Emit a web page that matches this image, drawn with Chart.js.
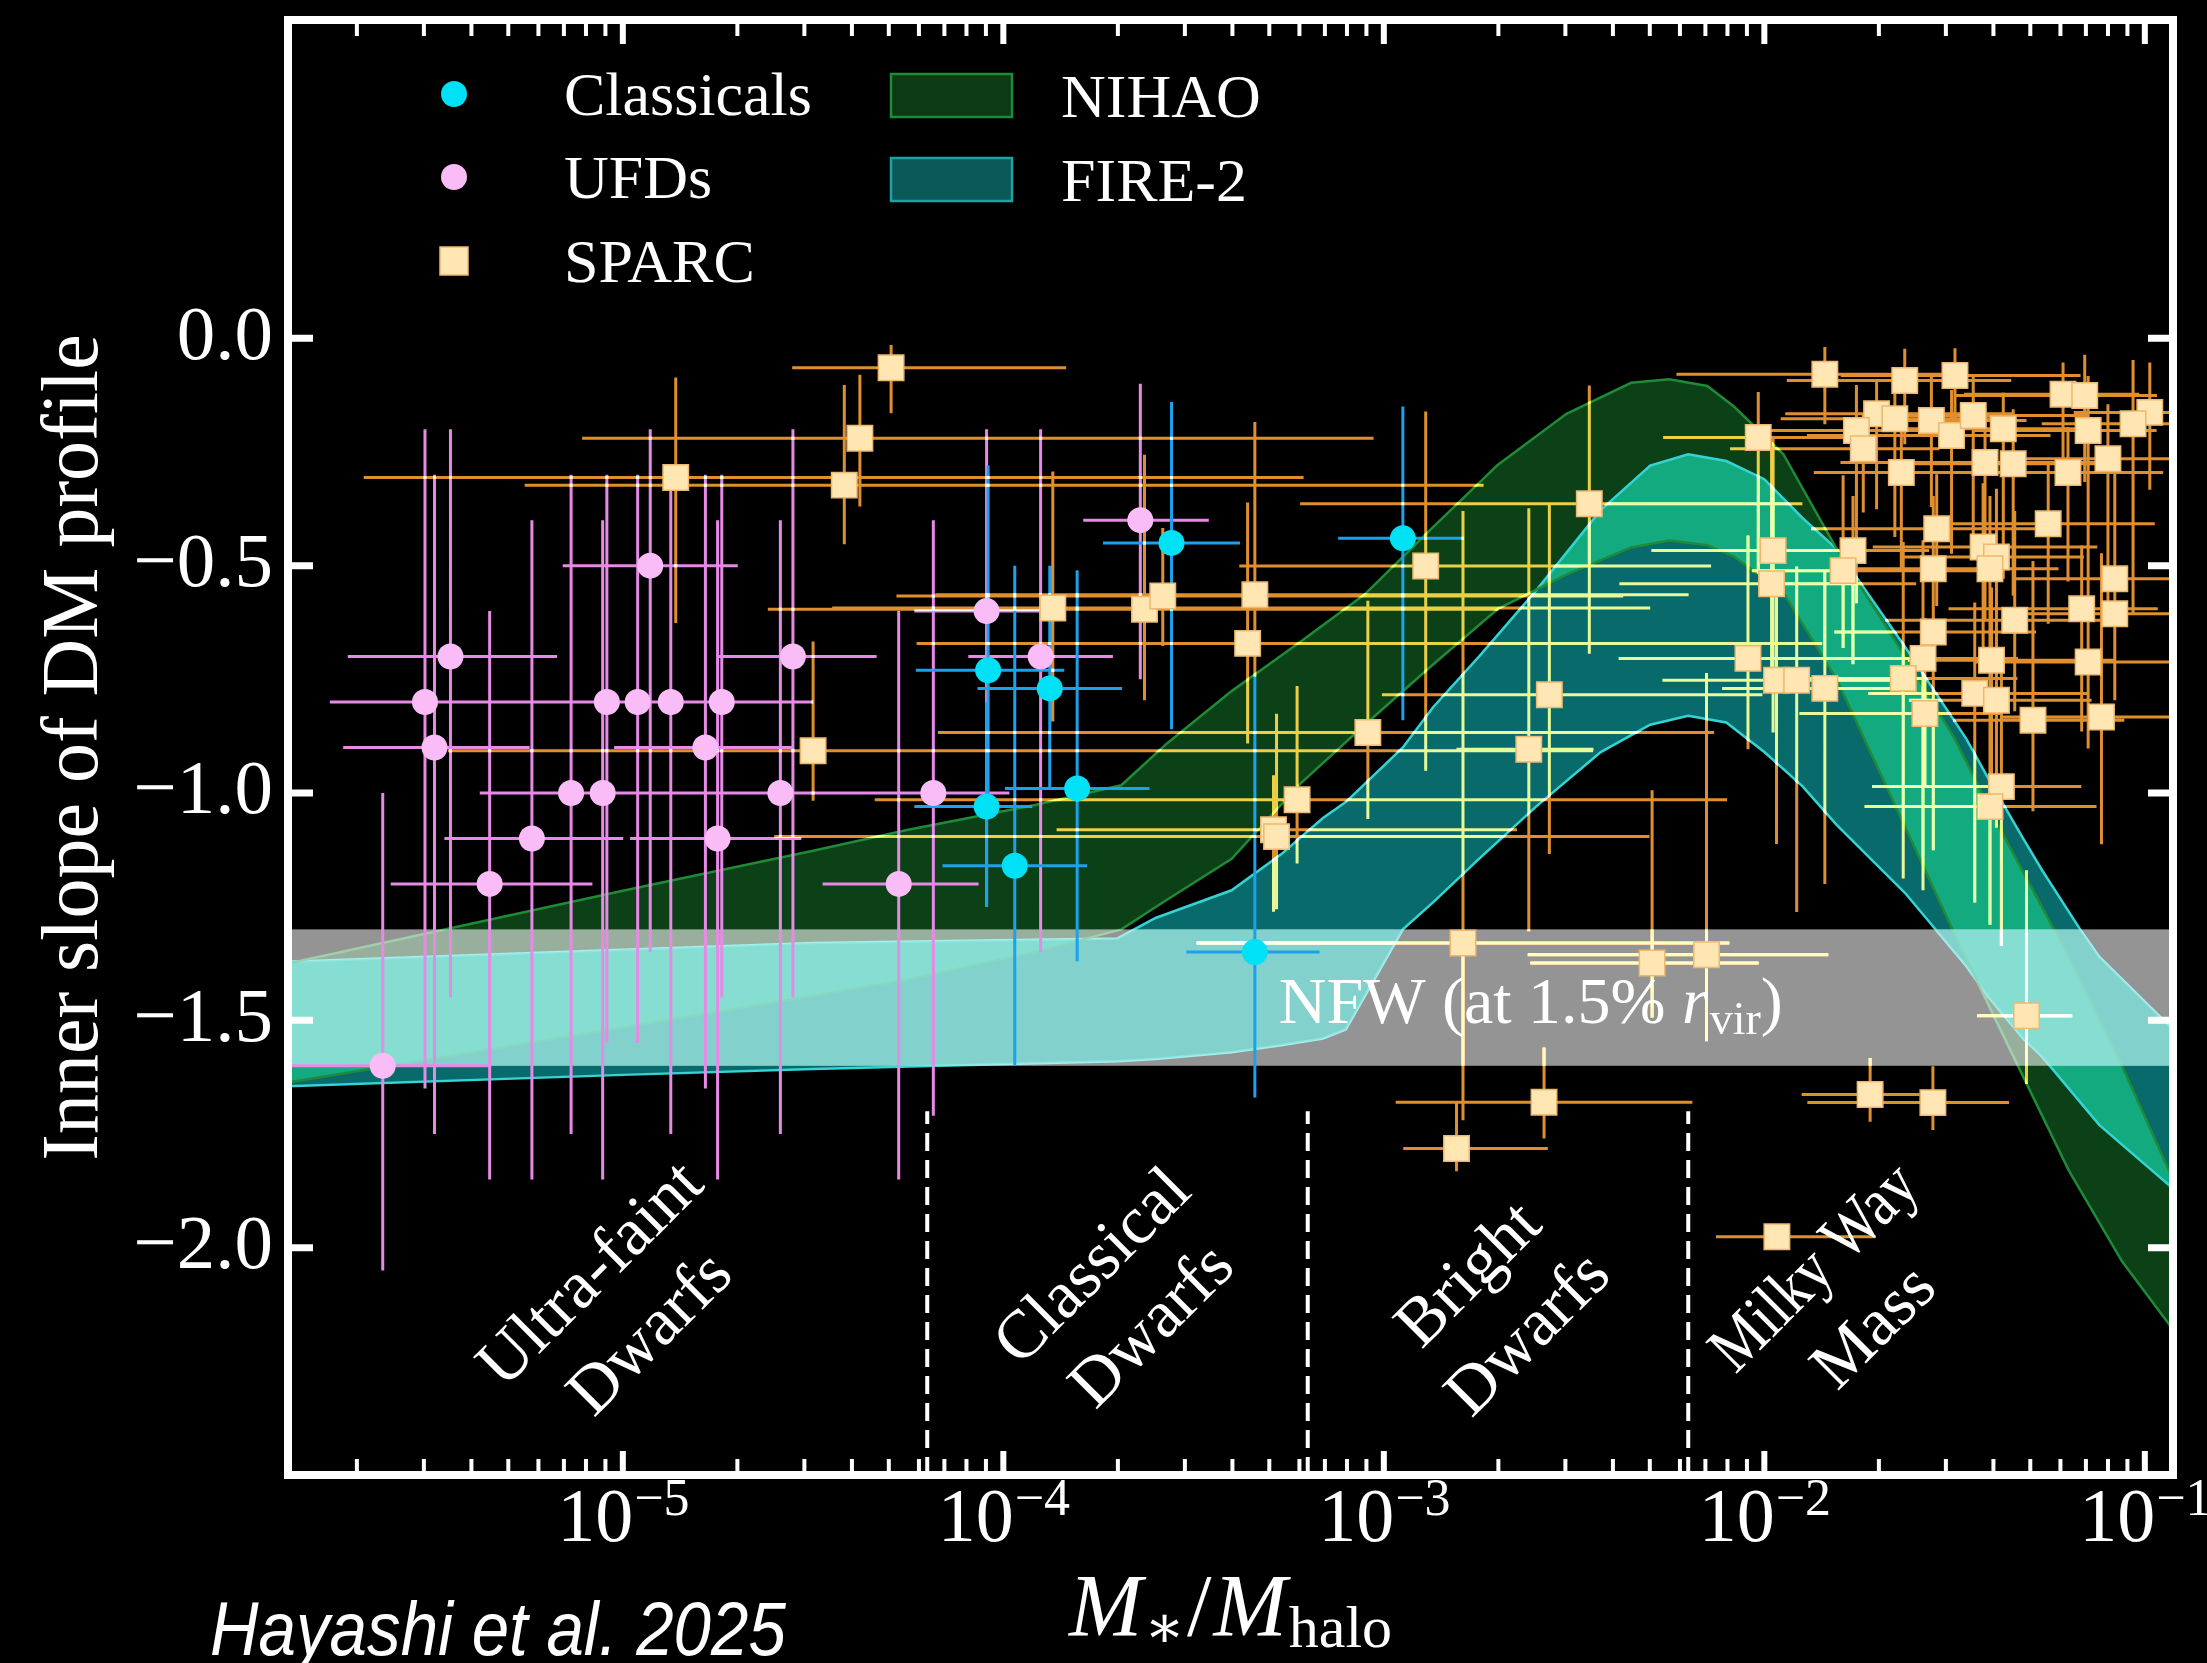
<!DOCTYPE html>
<html lang="en">
<head>
<meta charset="utf-8">
<title>Inner slope of DM profile vs stellar-to-halo mass ratio</title>
<script src="https://cdn.jsdelivr.net/npm/chart.js@4.4.1/dist/chart.umd.min.js"></script>
<style>
  html, body { margin: 0; padding: 0; background: #000; }
  canvas { display: block; }
</style>
</head>
<body>
<canvas id="slopeChart" width="2207" height="1663"></canvas>
<script>
// ---------------------------------------------------------------------------
// Data: x values are log10(M*/Mhalo); errors are given as (minus, plus).
// ---------------------------------------------------------------------------

// Ultra-faint dwarfs
const ufdLogRatio   = [-5.631, -5.520, -5.495, -5.453, -5.350, -5.239, -5.136, -5.053, -5.042, -4.961, -4.928,
                       -4.874, -4.783, -4.740, -4.751, -4.586, -4.553, -4.275, -4.184, -4.044, -3.902, -3.640];
const ufdSlope      = [-1.60, -0.80, -0.90, -0.70, -1.20, -1.10, -1.00, -1.00, -0.80, -0.80, -0.50,
                       -0.80, -0.90, -0.80, -1.10, -1.00, -0.70, -1.20, -1.00, -0.60, -0.70, -0.40];
const ufdLogErrLo   = [0.28, 0.25, 0.24, 0.27, 0.26, 0.23, 0.24, 0.24, 0.25, 0.24, 0.23,
                       0.25, 0.24, 0.24, 0.23, 0.25, 0.20, 0.20, 0.27, 0.19, 0.19, 0.15];
const ufdLogErrHi   = [0.28, 0.29, 0.25, 0.28, 0.27, 0.24, 0.25, 0.23, 0.25, 0.24, 0.23,
                       0.24, 0.23, 0.24, 0.22, 0.26, 0.22, 0.21, 0.20, 0.17, 0.19, 0.18];
const ufdSlopeErrLo = [0.45, 0.85, 0.85, 0.75, 0.65, 0.75, 0.75, 0.85, 0.75, 0.75, 0.85,
                       0.95, 0.75, 0.65, 0.75, 0.75, 0.75, 0.65, 0.71, 0.65, 0.65, 0.35];
const ufdSlopeErrHi = [0.60, 0.60, 0.60, 0.50, 0.60, 0.70, 0.70, 0.60, 0.50, 0.50, 0.30,
                       0.50, 0.60, 0.50, 0.70, 0.60, 0.50, 0.60, 0.60, 0.40, 0.50, 0.30];

// Classical dwarfs
const classLogRatio   = [-4.040, -4.044, -3.878, -3.806, -3.970, -3.558, -3.339, -2.950];
const classSlope      = [-0.73, -1.03, -0.77, -0.99, -1.16, -0.45, -1.35, -0.44];
const classLogErrLo   = [0.19, 0.19, 0.19, 0.19, 0.19, 0.18, 0.18, 0.17];
const classLogErrHi   = [0.20, 0.12, 0.19, 0.19, 0.19, 0.18, 0.17, 0.16];
const classSlopeErrLo = [0.30, 0.22, 0.22, 0.38, 0.44, 0.41, 0.32, 0.40];
const classSlopeErrHi = [0.45, 0.23, 0.27, 0.48, 0.66, 0.31, 0.61, 0.29];

// SPARC rotation-curve galaxies
const sparcLogRatio = [
  -4.295, -4.377, -4.418, -4.861, -4.500, -3.870, -3.629, -3.581, -3.358, -3.339,
  -2.890, -3.042, -3.290, -3.282, -3.228, -2.792, -2.809, -2.460, -2.565, -2.619,
  -2.295, -2.152, -2.579, -1.967, -1.722, -1.557, -1.311,
  -1.841, -1.631, -1.499, -1.215, -1.158, -0.987, -2.016, -1.705, -1.657, -1.758,
  -1.740, -1.561, -1.508, -1.451, -1.372, -1.149, -1.031, -1.640, -1.420, -1.346,
  -1.202, -1.097, -1.547, -1.254, -1.977, -1.767, -1.981, -1.793, -1.556, -1.425,
  -1.390, -1.407, -1.079, -1.166, -1.079, -1.342, -1.556, -1.583, -1.635, -2.043,
  -1.968, -1.915, -1.841, -1.403, -1.149, -1.447, -1.390, -1.294, -1.114, -1.578,
  -1.377, -1.407];
const sparcSlope = [
  -0.065, -0.220, -0.323, -0.306, -0.907, -0.593, -0.596, -0.567, -0.671, -0.564,
  -0.501, -0.867, -1.081, -1.096, -1.015, -1.330, -1.782, -0.364, -0.784, -0.904,
  -1.374, -1.356, -1.680, -1.976, -1.663, -1.681, -1.490,
  -0.079, -0.093, -0.082, -0.123, -0.126, -0.163, -0.218, -0.166, -0.177, -0.203,
  -0.243, -0.181, -0.214, -0.170, -0.199, -0.203, -0.188, -0.295, -0.273, -0.276,
  -0.295, -0.265, -0.419, -0.408, -0.467, -0.467, -0.540, -0.511, -0.507, -0.459,
  -0.481, -0.507, -0.529, -0.595, -0.606, -0.620, -0.646, -0.704, -0.748, -0.704,
  -0.752, -0.752, -0.770, -0.708, -0.712, -0.781, -0.796, -0.840, -0.833, -0.825,
  -0.986, -1.030];
const sparcLogErrLo = [
  0.26, 0.73, 0.84, 0.82, 0.96, 0.58, 0.99, 0.70, 0.87, 0.84,
  0.49, 1.13, 0.57, 1.32, 1.11, 0.70, 0.14, 0.76, 0.44, 0.19,
  0.32, 0.47, 0.39, 0.16, 0.18, 0.33, 0.13,
  0.39, 0.31, 0.30, 0.26, 0.34, 0.20, 0.25, 0.24, 0.30, 0.26,
  0.35, 0.22, 0.38, 0.20, 0.27, 0.30, 0.24, 0.23, 0.38, 0.26,
  0.22, 0.25, 0.33, 0.26, 0.32, 0.28, 0.40, 0.24, 0.27, 0.29,
  0.25, 0.34, 0.26, 0.35, 0.28, 0.34, 0.26, 0.23, 0.28, 0.34,
  0.30, 0.33, 0.27, 0.22, 0.30, 0.28, 0.23, 0.21, 0.26, 0.33,
  0.34, 0.33];
const sparcLogErrHi = [
  0.46, 1.35, 1.68, 1.65, 2.05, 1.57, 0.93, 1.21, 1.51, 1.14,
  0.75, 0.91, 0.64, 0.98, 1.13, 0.70, 0.24, 0.56, 0.56, 0.17,
  0.28, 0.32, 0.39, 0.26, 0.13, 0.20, 0.12,
  0.34, 0.28, 0.33, 0.20, 0.19, 0.12, 0.30, 0.36, 0.27, 0.22,
  0.20, 0.25, 0.26, 0.30, 0.20, 0.18, 0.12, 0.36, 0.30, 0.22,
  0.25, 0.18, 0.28, 0.28, 0.30, 0.20, 0.38, 0.36, 0.31, 0.30,
  0.23, 0.18, 0.15, 0.20, 0.15, 0.26, 0.27, 0.25, 0.30, 0.26,
  0.28, 0.29, 0.24, 0.32, 0.22, 0.30, 0.25, 0.24, 0.26, 0.20,
  0.21, 0.28];
const sparcSlopeErrLo = [
  0.10, 0.15, 0.13, 0.32, 0.11, 0.25, 0.20, 0.11, 0.22, 0.18,
  0.45, 0.19, 0.18, 0.16, 0.14, 0.39, 0.05, 0.33, 0.35, 0.40,
  0.12, 0.19, 0.08, 0.02, 0.06, 0.06, 0.15,
  0.11, 0.14, 0.12, 0.16, 0.19, 0.17, 0.30, 0.21, 0.26, 0.38,
  0.14, 0.19, 0.26, 0.30, 0.33, 0.36, 0.42, 0.21, 0.35, 0.29,
  0.24, 0.35, 0.17, 0.22, 0.40, 0.25, 0.24, 0.17, 0.20, 0.22,
  0.16, 0.29, 0.14, 0.27, 0.19, 0.20, 0.48, 0.51, 0.44, 0.20,
  0.36, 0.51, 0.43, 0.27, 0.19, 0.46, 0.28, 0.20, 0.28, 0.16,
  0.35, 0.26];
const sparcSlopeErrHi = [
  0.05, 0.14, 0.22, 0.22, 0.24, 0.30, 0.34, 0.15, 0.31, 0.38,
  0.34, 0.29, 0.12, 0.27, 0.25, 0.95, 0.10, 0.26, 0.42, 0.53,
  0.38, 0.62, 0.12, 0.02, 0.08, 0.08, 0.32,
  0.06, 0.07, 0.06, 0.07, 0.09, 0.11, 0.10, 0.07, 0.08, 0.10,
  0.08, 0.10, 0.10, 0.09, 0.08, 0.12, 0.14, 0.13, 0.12, 0.12,
  0.10, 0.12, 0.12, 0.13, 0.25, 0.12, 0.30, 0.21, 0.16, 0.14,
  0.15, 0.16, 0.26, 0.14, 0.24, 0.24, 0.20, 0.26, 0.30, 0.27,
  0.22, 0.25, 0.26, 0.16, 0.33, 0.20, 0.23, 0.35, 0.36, 0.21,
  0.30, 0.32];

// Simulation envelopes (log10 ratio, upper and lower slope)
const nihaoLogRatio = [-5.88, -5.00, -4.50, -4.25, -3.92, -3.69, -3.57, -3.40, -3.22, -3.05, -2.87, -2.70, -2.52,
                       -2.35, -2.25, -2.15, -2.08, -1.95, -1.81, -1.63, -1.50, -1.38, -1.20, -1.06, -0.926];
const nihaoUpper    = [-1.375, -1.215, -1.127, -1.081, -1.027, -0.983, -0.891, -0.776, -0.668, -0.563, -0.415, -0.278, -0.166,
                       -0.098, -0.090, -0.105, -0.150, -0.255, -0.463, -0.700, -0.880, -1.080, -1.360, -1.600, -1.850];
const nihaoLower    = [-1.637, -1.516, -1.446, -1.410, -1.350, -1.300, -1.235, -1.145, -0.980, -0.850, -0.717, -0.595, -0.520,
                       -0.460, -0.445, -0.455, -0.480, -0.560, -0.750, -1.075, -1.310, -1.520, -1.830, -2.030, -2.180];

const fireLogRatio = [-5.88, -5.00, -4.50, -3.70, -3.60, -3.40, -3.27, -3.16, -3.10, -2.95, -2.87, -2.75, -2.60, -2.43,
                      -2.30, -2.20, -2.10, -2.00, -1.90, -1.81, -1.63, -1.47, -1.41, -1.32, -1.27, -1.17, -1.12, -0.926];
const fireUpper    = [-1.371, -1.345, -1.330, -1.320, -1.275, -1.214, -1.135, -1.055, -1.020, -0.900, -0.811, -0.700, -0.555, -0.378,
                      -0.280, -0.255, -0.270, -0.310, -0.395, -0.463, -0.679, -0.880, -0.970, -1.100, -1.170, -1.300, -1.360, -1.520];
const fireLower    = [-1.645, -1.620, -1.607, -1.590, -1.585, -1.570, -1.555, -1.540, -1.520, -1.300, -1.240, -1.145, -1.030, -0.910,
                      -0.850, -0.830, -0.845, -0.910, -0.985, -1.070, -1.220, -1.380, -1.450, -1.540, -1.580, -1.680, -1.730, -1.870];

// NFW reference slope range at 1.5% of the virial radius
const nfwSlopeRange = [-1.6, -1.3];

// Mass-regime boundaries (log10 ratio) and their names
const regimeEdges  = [-4.2, -3.2, -2.2];
const regimeNames  = [['Ultra-faint', 'Dwarfs'], ['Classical', 'Dwarfs'], ['Bright', 'Dwarfs'], ['Milky Way', 'Mass']];

// Axis ticks
const xTickExponents = [-5, -4, -3, -2, -1];
const yTickValues    = [0, -0.5, -1.0, -1.5, -2.0];
const bandNames      = ['NIHAO', 'FIRE-2'];

// ---------------------------------------------------------------------------
// Layout and styling
// ---------------------------------------------------------------------------
const SERIF = '"Liberation Serif", "DejaVu Serif", serif';
const SANS  = '"Liberation Sans", Arial, sans-serif';

const STYLE = {
  classical: '#00E1F5', classicalBar: '#1CA2EC',
  ufd: '#F9BCF6', ufdBar: '#E68AE6',
  sparc: '#FFE6B2', sparcEdge: '#EDB870', sparcBar: '#DF8F2E',
  nihaoFill: '#0C4016', nihaoEdge: '#1F8A37',
  fireFill: '#086A6A', fireEdge: '#34D4D4'
};

const LAYOUT = {
  xRange: [-5.88, -0.926],
  yRange: [-2.5, 0.7],
  regimeTop: -1.7,
  regimeLabelAt: [[-5.002, -2.127], [-3.683, -2.110], [-2.695, -2.128], [-1.786, -2.113]],
  regimeLineSqueeze: [[1, 1], [1, 1], [1, 1], [0.86, 1]],
  nfwLabelAt: [-3.276, -1.506]
};

const toPoints = (lx, v) => lx.map((l, i) => ({ x: Math.pow(10, l), y: v[i] }));

function px(chart, lx) { return chart.scales.x.getPixelForValue(Math.pow(10, lx)); }
function py(chart, v)  { return chart.scales.y.getPixelForValue(v); }

function bandPath(chart, xs, up, lo) {
  const ctx = chart.ctx;
  ctx.beginPath();
  xs.forEach((l, i) => {
    const X = px(chart, l), Y = py(chart, up[i]);
    if (i === 0) ctx.moveTo(X, Y); else ctx.lineTo(X, Y);
  });
  for (let i = xs.length - 1; i >= 0; i--) ctx.lineTo(px(chart, xs[i]), py(chart, lo[i]));
  ctx.closePath();
}

function clipToArea(chart) {
  const a = chart.chartArea, ctx = chart.ctx;
  ctx.beginPath();
  ctx.rect(a.left, a.top, a.right - a.left, a.bottom - a.top);
  ctx.clip();
}

function drawErrorBars(chart, lx, v, xlo, xhi, ylo, yhi, color, width, op) {
  const ctx = chart.ctx;
  ctx.save();
  clipToArea(chart);
  ctx.globalCompositeOperation = op;
  ctx.strokeStyle = color;
  ctx.lineWidth = width;
  ctx.lineCap = 'butt';
  ctx.beginPath();
  lx.forEach((l, i) => {
    const X = px(chart, l), Y = py(chart, v[i]);
    ctx.moveTo(px(chart, l - xlo[i]), Y);
    ctx.lineTo(px(chart, l + xhi[i]), Y);
    ctx.moveTo(X, py(chart, v[i] - ylo[i]));
    ctx.lineTo(X, py(chart, v[i] + yhi[i]));
  });
  ctx.stroke();
  ctx.restore();
}

const figurePlugin = {
  id: 'figure',
  beforeDraw(chart) {
    const ctx = chart.ctx;
    ctx.save();
    ctx.fillStyle = '#000';
    ctx.fillRect(0, 0, chart.width, chart.height);
    ctx.restore();
  },
  beforeDatasetsDraw(chart) {
    const ctx = chart.ctx, a = chart.chartArea;
    // simulation envelopes
    ctx.save();
    clipToArea(chart);
    bandPath(chart, nihaoLogRatio, nihaoUpper, nihaoLower);
    ctx.fillStyle = STYLE.nihaoFill;
    ctx.fill();
    ctx.globalCompositeOperation = 'lighter';
    bandPath(chart, fireLogRatio, fireUpper, fireLower);
    ctx.fillStyle = STYLE.fireFill;
    ctx.fill();
    ctx.restore();

    // regime boundaries
    ctx.save();
    ctx.strokeStyle = '#fff';
    ctx.lineWidth = 4;
    ctx.setLineDash([18, 9]);
    regimeEdges.forEach(l => {
      const X = px(chart, l);
      ctx.beginPath();
      ctx.moveTo(X, a.bottom);
      ctx.lineTo(X, py(chart, LAYOUT.regimeTop));
      ctx.stroke();
    });
    ctx.restore();

    // regime names, rotated
    ctx.save();
    ctx.fillStyle = '#fff';
    ctx.font = `68px ${SERIF}`;
    ctx.textAlign = 'center';
    ctx.textBaseline = 'middle';
    regimeNames.forEach((lines, k) => {
      const [l, v] = LAYOUT.regimeLabelAt[k];
      const sq = LAYOUT.regimeLineSqueeze[k];
      ctx.save();
      ctx.translate(px(chart, l), py(chart, v));
      ctx.rotate(-Math.PI / 4);
      lines.forEach((line, j) => {
        ctx.save();
        ctx.translate(0, j === 0 ? -42 : 42);
        ctx.scale(sq[j], 1);
        ctx.fillText(line, 0, 0);
        ctx.restore();
      });
      ctx.restore();
    });
    ctx.restore();
  },
  beforeDatasetDraw(chart, args) {
    if (args.index !== 4) return;
    const ctx = chart.ctx, a = chart.chartArea;
    const yTop = py(chart, nfwSlopeRange[1]), yBot = py(chart, nfwSlopeRange[0]);

    // NFW band
    ctx.save();
    clipToArea(chart);
    ctx.fillStyle = 'rgba(255,255,255,0.58)';
    ctx.fillRect(a.left, yTop, a.right - a.left, yBot - yTop);
    ctx.beginPath();
    ctx.rect(a.left, yTop, a.right - a.left, yBot - yTop);
    ctx.clip();
    bandPath(chart, fireLogRatio, fireUpper, fireLower);
    ctx.fillStyle = 'rgba(110,225,215,0.5)';
    ctx.fill();
    ctx.restore();

    // NFW label
    ctx.save();
    ctx.fillStyle = '#fff';
    ctx.textBaseline = 'alphabetic';
    let x = px(chart, LAYOUT.nfwLabelAt[0]);
    const base = py(chart, LAYOUT.nfwLabelAt[1]);
    const runs = [
      { t: 'NFW (at 1.5% ', f: `66px ${SERIF}`, dy: 0 },
      { t: 'r', f: `italic 66px ${SERIF}`, dy: 0 },
      { t: 'vir', f: `46px ${SERIF}`, dy: 11 },
      { t: ')', f: `66px ${SERIF}`, dy: 0 }
    ];
    runs.forEach(r => {
      ctx.font = r.f;
      ctx.fillText(r.t, x, base + r.dy);
      x += ctx.measureText(r.t).width + (r.t === 'r' ? 2 : 0);
    });
    ctx.restore();

    // error bars
    drawErrorBars(chart, ufdLogRatio, ufdSlope, ufdLogErrLo, ufdLogErrHi, ufdSlopeErrLo, ufdSlopeErrHi,
                  STYLE.ufdBar, 3, 'source-over');
    drawErrorBars(chart, classLogRatio, classSlope, classLogErrLo, classLogErrHi, classSlopeErrLo, classSlopeErrHi,
                  STYLE.classicalBar, 3, 'source-over');
    drawErrorBars(chart, sparcLogRatio, sparcSlope, sparcLogErrLo, sparcLogErrHi, sparcSlopeErrLo, sparcSlopeErrHi,
                  STYLE.sparcBar, 3, 'lighter');
  },
  afterDatasetsDraw(chart) {
    const ctx = chart.ctx, a = chart.chartArea;
    ctx.save();
    ctx.strokeStyle = '#fff';
    ctx.lineCap = 'butt';
    // x ticks, top and bottom, pointing inward
    for (let e = -6; e <= -1; e++) {
      for (let k = 1; k <= 9; k++) {
        const l = e + Math.log10(k);
        if (l < LAYOUT.xRange[0] || l > LAYOUT.xRange[1]) continue;
        const X = px(chart, l);
        const major = k === 1;
        const len = major ? 24 : 16;
        ctx.lineWidth = major ? 6 : 4;
        ctx.beginPath();
        ctx.moveTo(X, a.bottom); ctx.lineTo(X, a.bottom - len);
        ctx.moveTo(X, a.top);    ctx.lineTo(X, a.top + len);
        ctx.stroke();
      }
    }
    // y ticks, left and right
    ctx.lineWidth = 7;
    yTickValues.forEach(v => {
      const Y = py(chart, v);
      ctx.beginPath();
      ctx.moveTo(a.left, Y);  ctx.lineTo(a.left + 25, Y);
      ctx.moveTo(a.right, Y); ctx.lineTo(a.right - 25, Y);
      ctx.stroke();
    });
    // frame
    ctx.lineWidth = 8;
    ctx.strokeRect(a.left, a.top, a.right - a.left, a.bottom - a.top);
    ctx.restore();
  },
  afterDraw(chart) {
    const ctx = chart.ctx, a = chart.chartArea;
    ctx.save();
    ctx.fillStyle = '#fff';
    ctx.textBaseline = 'alphabetic';

    // x tick labels 10^n
    xTickExponents.forEach(e => {
      const X = px(chart, e);
      ctx.font = `76px ${SERIF}`;
      const w1 = ctx.measureText('10').width;
      const expText = (e < 0 ? '\u2212' : '') + Math.abs(e);
      ctx.font = `52px ${SERIF}`;
      const w2 = ctx.measureText(expText).width;
      const x0 = X - (w1 + w2) / 2;
      ctx.font = `76px ${SERIF}`;
      ctx.fillText('10', x0, 1541);
      ctx.font = `52px ${SERIF}`;
      ctx.fillText(expText, x0 + w1 + 1, 1515);
    });

    // y axis title
    ctx.save();
    ctx.font = `80px ${SERIF}`;
    ctx.textAlign = 'center';
    ctx.translate(97, (a.top + a.bottom) / 2);
    ctx.rotate(-Math.PI / 2);
    ctx.fillText('Inner slope of DM profile', 0, 0);
    ctx.restore();

    // x axis title: M_* / M_halo
    const runs = [
      { t: 'M', f: `italic 88px ${SERIF}`, dy: 0, gap: 2 },
      { t: '\u2217', f: `60px ${SERIF}`, dy: 12, gap: 2 },
      { t: '/', f: `88px ${SERIF}`, dy: 0, gap: 2 },
      { t: 'M', f: `italic 88px ${SERIF}`, dy: 0, gap: 2 },
      { t: 'halo', f: `60px ${SERIF}`, dy: 12, gap: 0 }
    ];
    let total = 0;
    runs.forEach(r => { ctx.font = r.f; r.w = ctx.measureText(r.t).width; total += r.w + r.gap; });
    let x = (a.left + a.right) / 2 - total / 2;
    runs.forEach(r => { ctx.font = r.f; ctx.fillText(r.t, x, 1635 + r.dy); x += r.w + r.gap; });

    // legend
    const ds = chart.data.datasets;
    ctx.font = `62px ${SERIF}`;
    ctx.fillStyle = STYLE.classical;
    ctx.beginPath(); ctx.arc(454, 94, 13, 0, Math.PI * 2); ctx.fill();
    ctx.fillStyle = STYLE.ufd;
    ctx.beginPath(); ctx.arc(454, 177, 13, 0, Math.PI * 2); ctx.fill();
    ctx.fillStyle = STYLE.sparc;
    ctx.strokeStyle = STYLE.sparcEdge;
    ctx.lineWidth = 1.5;
    ctx.fillRect(440, 247, 28, 28);
    ctx.strokeRect(440, 247, 28, 28);
    ctx.fillStyle = '#fff';
    ctx.fillText(ds[4].label, 564, 115);
    ctx.fillText(ds[5].label, 564, 198);
    ctx.fillText(ds[6].label, 564, 282);

    ctx.lineWidth = 2.5;
    ctx.fillStyle = '#0B3A14'; ctx.strokeStyle = STYLE.nihaoEdge;
    ctx.fillRect(891, 74, 121, 43); ctx.strokeRect(891, 74, 121, 43);
    ctx.fillStyle = '#0A5858'; ctx.strokeStyle = '#1FA2A2';
    ctx.fillRect(891, 158, 121, 43); ctx.strokeRect(891, 158, 121, 43);
    ctx.fillStyle = '#fff';
    ctx.fillText(bandNames[0], 1061, 117);
    ctx.fillText(bandNames[1], 1061, 201);

    // citation
    ctx.save();
    ctx.font = `italic 76px ${SANS}`;
    ctx.translate(210, 1655);
    ctx.scale(0.885, 1);
    ctx.fillText('Hayashi et al. 2025', 0, 0);
    ctx.restore();

    ctx.restore();
  }
};

function edgeDataset(lx, v, color) {
  return {
    label: '', data: toPoints(lx, v), showLine: true, borderColor: color, borderWidth: 2.5,
    pointRadius: 0, fill: false, tension: 0, order: 10
  };
}

function build() {
  new Chart(document.getElementById('slopeChart'), {
    type: 'scatter',
    data: {
      datasets: [
        edgeDataset(nihaoLogRatio, nihaoUpper, STYLE.nihaoEdge),
        edgeDataset(nihaoLogRatio, nihaoLower, STYLE.nihaoEdge),
        edgeDataset(fireLogRatio, fireUpper, STYLE.fireEdge),
        edgeDataset(fireLogRatio, fireLower, STYLE.fireEdge),
        { label: 'Classicals', data: toPoints(classLogRatio, classSlope), pointStyle: 'circle', pointRadius: 13,
          backgroundColor: STYLE.classical, borderWidth: 0, order: 3 },
        { label: 'UFDs', data: toPoints(ufdLogRatio, ufdSlope), pointStyle: 'circle', pointRadius: 13,
          backgroundColor: STYLE.ufd, borderWidth: 0, order: 2 },
        { label: 'SPARC', data: toPoints(sparcLogRatio, sparcSlope), pointStyle: 'rect', pointRadius: 18,
          backgroundColor: STYLE.sparc, borderColor: STYLE.sparcEdge, borderWidth: 1.5, order: 1 }
      ]
    },
    options: {
      responsive: false,
      maintainAspectRatio: false,
      devicePixelRatio: 1,
      animation: false,
      events: [],
      layout: { padding: { top: 20, right: 34, bottom: 0, left: 0 } },
      plugins: { legend: { display: false }, tooltip: { enabled: false } },
      scales: {
        x: {
          type: 'logarithmic',
          bounds: 'data',
          min: Math.pow(10, LAYOUT.xRange[0]),
          max: Math.pow(10, LAYOUT.xRange[1]),
          grid: { display: false, drawTicks: false },
          border: { display: false },
          ticks: { display: false },
          afterFit: s => { s.height = 188; s.paddingLeft = 0; s.paddingRight = 0; }
        },
        y: {
          type: 'linear',
          min: LAYOUT.yRange[0],
          max: LAYOUT.yRange[1],
          grid: { display: false, drawTicks: false },
          border: { display: false },
          afterBuildTicks: s => { s.ticks = yTickValues.map(v => ({ value: v })); },
          ticks: {
            color: '#fff',
            padding: 15,
            font: { family: SERIF, size: 77 },
            callback: v => (v === 0 ? '0.0' : (v < 0 ? '\u2212' : '') + Math.abs(v).toFixed(1))
          },
          afterFit: s => { s.width = 288; s.paddingTop = 0; s.paddingBottom = 0; }
        }
      }
    },
    plugins: [figurePlugin]
  });
}

const fontLoads = [
  document.fonts.load(`77px "Liberation Serif"`),
  document.fonts.load(`italic 88px "Liberation Serif"`),
  document.fonts.load(`italic 76px "Liberation Sans"`)
];
Promise.all(fontLoads).then(build, build);
</script>
</body>
</html>
